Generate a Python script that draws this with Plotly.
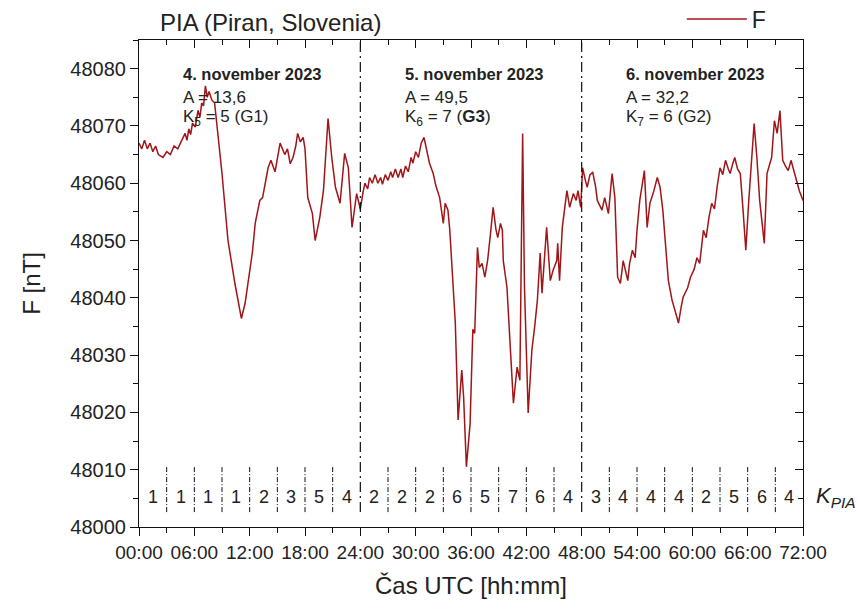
import plotly.graph_objects as go

# ---- data ----
hours = [0.0, 0.3, 0.6, 0.9, 1.2, 1.5, 1.8, 2.1, 2.6, 3.0, 3.4, 3.8, 4.2, 4.6,
         5.0, 5.2, 5.4, 5.6, 5.8, 6.1, 6.4, 6.6, 6.8, 7.0, 7.2, 7.4, 7.6, 7.9, 8.2,
         9.0, 9.65, 10.4, 10.8, 11.1, 11.5, 12.0, 12.3, 12.6, 13.1, 13.4, 13.7, 14.0, 14.3, 14.75, 15.3, 15.8,
         16.1, 16.4, 16.7, 17.0, 17.2, 17.5, 17.8, 18.0, 18.3, 18.8, 19.1, 19.6, 20.0, 20.5, 20.9, 21.3, 21.8,
         22.3, 22.7, 23.1, 23.6,
         24.0, 24.3, 24.5, 24.8, 25.0, 25.3, 25.6, 25.9, 26.2, 26.4, 26.7, 27.0, 27.3, 27.5, 27.8, 28.1,
         28.4, 28.6, 28.9, 29.2, 29.5, 29.7, 30.0, 30.3, 30.6, 30.9, 31.1, 31.2, 31.5, 31.9, 32.2, 32.6,
         33.0, 33.2, 33.5, 33.7, 34.3, 34.6, 35.0, 35.2, 35.5, 35.9, 36.2, 36.4, 36.7, 36.9, 37.2, 37.5,
         37.8, 38.1, 38.4, 38.7, 38.9, 39.2, 39.4, 39.5, 39.9, 40.2, 40.6, 41.0, 41.3, 41.6, 41.8, 42.2,
         42.6, 42.9, 43.2, 43.5, 43.7, 44.2, 44.6, 44.9, 45.3, 45.4, 45.6, 45.9, 46.2, 46.4, 46.7, 47.1,
         47.4, 47.6, 47.9,
         48.1, 48.4, 48.6, 48.9, 49.2, 49.5, 49.7, 50.2, 50.5, 50.9, 51.3, 51.6, 51.9, 52.2, 52.5, 53.0,
         53.2, 53.5, 53.8, 54.0, 54.3, 54.8, 55.1, 55.4, 55.8, 56.2, 56.5, 56.8, 57.4, 57.8, 58.0, 58.3,
         58.5, 58.8, 59.0, 59.5, 59.8, 60.2, 60.5, 60.8, 61.2, 61.5, 61.8, 62.1, 62.4, 62.7, 63.0, 63.3,
         63.6, 63.9, 64.1, 64.4, 64.6, 64.9, 65.2, 65.5, 65.8, 66.1, 66.5, 66.7, 67.0, 67.3, 67.8, 68.1,
         68.4, 68.6, 68.9, 69.2, 69.5, 69.8, 70.1, 70.4, 70.7, 70.9, 71.1, 71.3, 71.6, 72.0]
F_nT = [48067, 48066, 48067.5, 48066, 48067, 48065.5, 48066.5, 48065, 48064.5, 48065.5, 48065, 48066.5,
        48066, 48067.5,
        48068.7, 48067.5, 48069.5, 48068.5, 48070.5, 48069.8, 48072.7, 48071.5, 48074, 48073.5, 48077,
        48075, 48076, 48074.5, 48074,
        48061.7, 48050, 48042.5, 48039, 48036.4, 48039, 48044.8, 48048, 48053, 48057, 48057.5, 48060.5,
        48062.7, 48064, 48062, 48067, 48065, 48066, 48063.4, 48064.5, 48066.5, 48068.7, 48067.2, 48068,
        48066, 48057.5, 48054.7, 48050, 48054, 48058.7, 48071.3, 48064.5, 48059.3, 48056.5, 48065.2,
        48062.7, 48052.3, 48058.2,
        48055.5, 48058.5, 48060, 48059, 48061, 48060, 48061.5, 48060, 48061, 48059.8, 48061.5, 48060.5,
        48062, 48061, 48062.5, 48061, 48062.5, 48061, 48063, 48062, 48064.5, 48063.5, 48065.5, 48064.5,
        48067, 48068, 48066.5, 48065.2, 48063.5, 48061.7, 48059.5, 48057.5,
        48053, 48056.5, 48055.3, 48051.8, 48035.6, 48018.7, 48027.4, 48022.7, 48010.5, 48018, 48034.5,
        48033.8, 48048.8, 48045.3, 48046, 48043.6, 48046.5, 48051, 48055.8, 48052, 48050.5, 48053,
        48051.8, 48046.5, 48041.8, 48033.1, 48021.6, 48027.9, 48025.6, 48068.7, 48041.8, 48019.9,
        48030.9, 48034.9, 48039.6, 48047.8, 48040.8, 48052.3, 48043, 48044.8, 48046.5, 48049.5, 48043,
        48052.3, 48056, 48058.7, 48055.8, 48058.2, 48057, 48058.7, 48055.8,
        48062.7, 48060.5, 48059.3, 48061.5, 48061.9, 48059.5, 48057, 48055.3, 48057.5, 48054.7, 48061.7,
        48057.5, 48043.6, 48042.5, 48046.5, 48043, 48046, 48048.3, 48047, 48051.8, 48057, 48062.2,
        48052.3, 48056.5, 48058.5, 48061, 48059.3, 48055.3, 48043, 48039.6, 48038.5, 48036.6, 48035.6,
        48038.5, 48040.1, 48041.8, 48043.6, 48045, 48047, 48046, 48051.8, 48050.5, 48054, 48056.5,
        48055.5, 48059.5, 48062.7, 48061.5, 48064, 48062.5, 48061.7, 48063.5, 48064.5, 48062.5, 48061.7,
        48055.3, 48048.3, 48056.5, 48065.7, 48070.4, 48064.5, 48057, 48049.5, 48061.7, 48063.4, 48064.5,
        48070.9, 48068.7, 48072.7, 48064, 48063, 48062.2, 48064, 48062.7, 48061.5, 48060.5, 48058.7,
        48057]

k_index = [1, 1, 1, 1, 2, 3, 5, 4, 2, 2, 2, 6, 5, 7, 6, 4, 3, 4, 4, 4, 2, 5, 6, 4]
k_interval_h = 3
day_start_h = [0, 24, 48]
day_labels = ["4. november 2023", "5. november 2023", "6. november 2023"]
day_A = ["13,6", "49,5", "32,2"]
day_K_sub = ["5", "6", "7"]
day_K_val = ["5", "7", "6"]
day_G = ["G1", "<b>G3</b>", "G2"]
x_tickvals = list(range(0, 73, 6))
x_ticktext = ["%02d:00" % h for h in x_tickvals]

FONT = "Arial, 'Liberation Sans', sans-serif"
LINE_COLOR = "#a01518"
TXT = "#222222"
Y0, Y1 = 48000, 48085
K_TOP, K_BOT, K_TXT = 48010.5, 48002.6, 48005.2

fig = go.Figure()
fig.add_trace(go.Scatter(x=hours, y=F_nT, mode="lines", name="F",
                         line=dict(color=LINE_COLOR, width=1.5), xaxis="x", yaxis="y"))
# invisible trace to anchor mirror axes
fig.add_trace(go.Scatter(x=[0, 72], y=[Y0, Y1], mode="markers", marker=dict(opacity=0),
                         showlegend=False, hoverinfo="skip", xaxis="x2", yaxis="y2"))

shapes = []
n = len(k_index)
for i in range(1, n):
    hb = i * k_interval_h
    if hb in day_start_h:
        shapes.append(dict(type="line", xref="x", yref="y", x0=hb, x1=hb, y0=K_BOT, y1=Y1,
                           line=dict(color="#111", width=1.2, dash="10px,4px,2px,4px")))
    else:
        shapes.append(dict(type="line", xref="x", yref="y", x0=hb, x1=hb, y0=K_BOT, y1=K_TOP,
                           line=dict(color="#111", width=1, dash="5px,2px,1px,2px")))

annotations = []
for i, k in enumerate(k_index):
    annotations.append(dict(x=(i + 0.5) * k_interval_h, y=K_TXT, xref="x", yref="y", text=str(k),
                            showarrow=False, font=dict(family=FONT, size=18, color=TXT)))
for d in range(3):
    x0 = day_start_h[d] + 4.6
    annotations.append(dict(x=x0, y=48079.0, xref="x", yref="y", xanchor="left", text="<b>%s</b>" % day_labels[d],
                            showarrow=False, font=dict(family=FONT, size=16.5, color=TXT)))
    annotations.append(dict(x=x0, y=48075.0, xref="x", yref="y", xanchor="left", text="A = %s" % day_A[d],
                            showarrow=False, font=dict(family=FONT, size=17, color=TXT)))
    annotations.append(dict(x=x0, y=48071.4, xref="x", yref="y", xanchor="left",
                            text="K<sub>%s</sub> = %s (%s)" % (day_K_sub[d], day_K_val[d], day_G[d]),
                            showarrow=False, font=dict(family=FONT, size=17, color=TXT)))

annotations.append(dict(x=1.016, y=K_TXT, xref="paper", yref="y", xanchor="left", text="<i>K<sub>PIA</sub></i>",
                        showarrow=False, font=dict(family=FONT, size=22, color=TXT)))
annotations.append(dict(x=0.028, y=1.035, xref="paper", yref="paper", xanchor="left", yanchor="middle",
                        text="PIA (Piran, Slovenia)", showarrow=False, font=dict(family=FONT, size=24, color=TXT)))

fig.update_layout(
    width=857, height=603,
    margin=dict(l=139, r=54, t=40, b=76, autoexpand=False),
    paper_bgcolor="white", plot_bgcolor="white",
    font=dict(family=FONT, color=TXT),
    showlegend=True,
    legend=dict(x=0.8175, y=1.043, xanchor="left", yanchor="middle", bgcolor="rgba(0,0,0,0)",
                font=dict(family=FONT, size=23, color=TXT), itemwidth=60),
    xaxis=dict(range=[0, 72], tickvals=x_tickvals, ticktext=x_ticktext, ticks="outside", ticklen=8,
               tickwidth=1, tickcolor="#111", showline=True, linecolor="#111", linewidth=1.2,
               showgrid=False, zeroline=False, tickfont=dict(family=FONT, size=19, color=TXT),
               minor=dict(dtick=3, tick0=0, ticks="outside", ticklen=5, tickcolor="#111"),
               title=dict(text="Čas UTC [hh:mm]", font=dict(family=FONT, size=24, color=TXT), standoff=15)),
    yaxis=dict(range=[Y0, Y1], tick0=48000, dtick=10, ticks="outside", ticklen=8, tickwidth=1,
               tickcolor="#111", showline=True, linecolor="#111", linewidth=1.2, showgrid=False,
               zeroline=False, tickformat="d", tickfont=dict(family=FONT, size=20, color=TXT),
               minor=dict(dtick=5, tick0=48000, ticks="outside", ticklen=5, tickcolor="#111"),
               title=dict(text="F [nT]", font=dict(family=FONT, size=24, color=TXT), standoff=22)),
    xaxis2=dict(range=[0, 72], overlaying="x", side="top", tickvals=x_tickvals, showticklabels=False,
                ticks="inside", ticklen=8, tickcolor="#111", showline=True, linecolor="#111", linewidth=1.2,
                showgrid=False, zeroline=False,
                minor=dict(dtick=3, tick0=0, ticks="inside", ticklen=5, tickcolor="#111")),
    yaxis2=dict(range=[Y0, Y1], overlaying="y", side="right", tick0=48000, dtick=10, showticklabels=False,
                ticks="inside", ticklen=8, tickcolor="#111", showline=True, linecolor="#111", linewidth=1.2,
                showgrid=False, zeroline=False,
                minor=dict(dtick=5, tick0=48000, ticks="inside", ticklen=5, tickcolor="#111")),
    shapes=shapes,
    annotations=annotations,
)

fig.write_html("out.html")
